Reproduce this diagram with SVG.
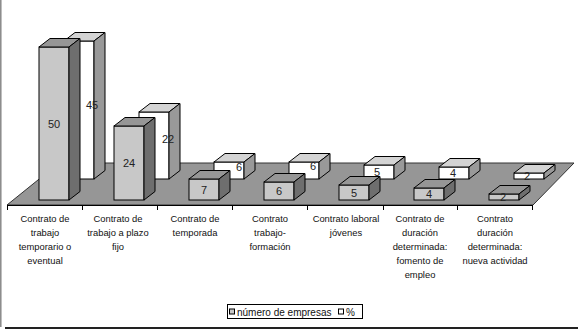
<svg xmlns="http://www.w3.org/2000/svg" width="578" height="331" viewBox="0 0 578 331">
<style>
.ff{fill:#c8c8c8;stroke:#000;stroke-width:1}
.ft{fill:#969696;stroke:#000;stroke-width:1;stroke-linejoin:round}
.fs{fill:#6e6e6e;stroke:#000;stroke-width:1;stroke-linejoin:round}
.bf{fill:#fff;stroke:#000;stroke-width:1}
.bt{fill:#d4d4d4;stroke:#000;stroke-width:1;stroke-linejoin:round}
.bs{fill:#999;stroke:#000;stroke-width:1;stroke-linejoin:round}
.v{font-family:"Liberation Sans",Arial,sans-serif;font-size:11px;fill:#222;text-anchor:middle}
.c{font-family:"Liberation Sans",Arial,sans-serif;font-size:9.4px;fill:#111;text-anchor:middle}
.lg{font-family:"Liberation Sans",Arial,sans-serif;font-size:10px;fill:#111}
</style>
<rect width="578" height="331" fill="#fff"/>
<line x1="0.8" y1="0" x2="0.8" y2="327" stroke="#888" stroke-width="1.5"/>
<line x1="5" y1="328" x2="578" y2="328" stroke="#222" stroke-width="2"/>
<g id="floor">
<polygon points="7,205 533,205 574,163 59,163" fill="#969696" stroke="#333" stroke-width="1"/>
<line x1="7" y1="205.5" x2="533" y2="205.5" stroke="#000" stroke-width="1.2"/>
<g stroke="#000" stroke-width="1">
<line x1="7.5" y1="205" x2="7.5" y2="210"/><line x1="82.5" y1="205" x2="82.5" y2="210"/><line x1="157.5" y1="205" x2="157.5" y2="210"/><line x1="232.5" y1="205" x2="232.5" y2="210"/><line x1="307.5" y1="205" x2="307.5" y2="210"/><line x1="383.5" y1="205" x2="383.5" y2="210"/><line x1="457.5" y1="205" x2="457.5" y2="210"/><line x1="532.5" y1="205" x2="532.5" y2="210"/>
</g>
</g>
<g id="pct-bars">
<g id="pct0"><rect class="bf" x="64" y="41" width="30" height="138"/><polygon class="bt" points="64,41 75,32.5 105,32.5 94,41"/><polygon class="bs" points="94,41 105,32.5 105,170.5 94,179"/><text class="v" x="92" y="109">45</text></g>
<g id="pct1"><rect class="bf" x="139" y="112" width="30" height="67"/><polygon class="bt" points="139,112 150,103.5 180,103.5 169,112"/><polygon class="bs" points="169,112 180,103.5 180,170.5 169,179"/><text class="v" x="168" y="143">22</text></g>
<g id="pct2"><rect class="bf" x="214" y="162" width="30" height="17"/><polygon class="bt" points="214,162 225,153.5 255,153.5 244,162"/><polygon class="bs" points="244,162 255,153.5 255,170.5 244,179"/><text class="v" x="239" y="171">6</text></g>
<g id="pct3"><rect class="bf" x="289" y="162" width="30" height="17"/><polygon class="bt" points="289,162 300,153.5 330,153.5 319,162"/><polygon class="bs" points="319,162 330,153.5 330,170.5 319,179"/><text class="v" x="313" y="170">6</text></g>
<g id="pct4"><rect class="bf" x="364" y="165" width="30" height="14"/><polygon class="bt" points="364,165 375,156.5 405,156.5 394,165"/><polygon class="bs" points="394,165 405,156.5 405,170.5 394,179"/><text class="v" x="377" y="176">5</text></g>
<g id="pct5"><rect class="bf" x="439" y="167" width="30" height="12"/><polygon class="bt" points="439,167 450,158.5 480,158.5 469,167"/><polygon class="bs" points="469,167 480,158.5 480,170.5 469,179"/><text class="v" x="453" y="177">4</text></g>
<g id="pct6"><rect class="bf" x="514" y="173" width="30" height="6"/><polygon class="bt" points="514,173 525,164.5 555,164.5 544,173"/><polygon class="bs" points="544,173 555,164.5 555,170.5 544,179"/><text class="v" x="527" y="180">2</text></g>
</g>
<g id="num-bars">
<g id="num0"><rect class="ff" x="39" y="47" width="30" height="153"/><polygon class="ft" points="39,47 50,38.5 80,38.5 69,47"/><polygon class="fs" points="69,47 80,38.5 80,191.5 69,200"/><text class="v" x="54" y="128">50</text></g>
<g id="num1"><rect class="ff" x="114" y="126" width="30" height="74"/><polygon class="ft" points="114,126 125,117.5 155,117.5 144,126"/><polygon class="fs" points="144,126 155,117.5 155,191.5 144,200"/><text class="v" x="129" y="167">24</text></g>
<g id="num2"><rect class="ff" x="189" y="179" width="30" height="21"/><polygon class="ft" points="189,179 200,170.5 230,170.5 219,179"/><polygon class="fs" points="219,179 230,170.5 230,191.5 219,200"/><text class="v" x="204" y="193.5">7</text></g>
<g id="num3"><rect class="ff" x="264" y="182" width="30" height="18"/><polygon class="ft" points="264,182 275,173.5 305,173.5 294,182"/><polygon class="fs" points="294,182 305,173.5 305,191.5 294,200"/><text class="v" x="279" y="195">6</text></g>
<g id="num4"><rect class="ff" x="339" y="185" width="30" height="15"/><polygon class="ft" points="339,185 350,176.5 380,176.5 369,185"/><polygon class="fs" points="369,185 380,176.5 380,191.5 369,200"/><text class="v" x="354" y="197">5</text></g>
<g id="num5"><rect class="ff" x="414" y="188" width="30" height="12"/><polygon class="ft" points="414,188 425,179.5 455,179.5 444,188"/><polygon class="fs" points="444,188 455,179.5 455,191.5 444,200"/><text class="v" x="429" y="198">4</text></g>
<g id="num6"><rect class="ff" x="489" y="194" width="30" height="6"/><polygon class="ft" points="489,194 500,185.5 530,185.5 519,194"/><polygon class="fs" points="519,194 530,185.5 530,191.5 519,200"/><text class="v" x="503" y="201">2</text></g>
</g>
<g id="connectors"></g>
<g id="categories">
<text class="c" x="45" y="222"><tspan x="45">Contrato de</tspan><tspan x="45" dy="14">trabajo</tspan><tspan x="45" dy="14">temporario o</tspan><tspan x="45" dy="14">eventual</tspan></text>
<text class="c" x="118" y="222"><tspan x="118">Contrato de</tspan><tspan x="118" dy="14">trabajo a plazo</tspan><tspan x="118" dy="14">fijo</tspan></text>
<text class="c" x="195" y="222"><tspan x="195">Contrato de</tspan><tspan x="195" dy="14">temporada</tspan></text>
<text class="c" x="270" y="222"><tspan x="270">Contrato</tspan><tspan x="270" dy="14">trabajo-</tspan><tspan x="270" dy="14">formación</tspan></text>
<text class="c" x="346" y="222"><tspan x="346">Contrato laboral</tspan><tspan x="346" dy="14">jóvenes</tspan></text>
<text class="c" x="420" y="222"><tspan x="420">Contrato de</tspan><tspan x="420" dy="14">duración</tspan><tspan x="420" dy="14">determinada:</tspan><tspan x="420" dy="14">fomento de</tspan><tspan x="420" dy="14">empleo</tspan></text>
<text class="c" x="495" y="222"><tspan x="495">Contrato</tspan><tspan x="495" dy="14">duración</tspan><tspan x="495" dy="14">determinada:</tspan><tspan x="495" dy="14">nueva actividad</tspan></text>
</g>
<g id="legend">
<rect x="227.5" y="304.5" width="135" height="14" fill="#fff" stroke="#000" stroke-width="1"/>
<rect x="229.5" y="309" width="5" height="5" fill="#c8c8c8" stroke="#000" stroke-width="1"/>
<text class="lg" x="237" y="315.5">número de empresas</text>
<rect x="338.5" y="309" width="5" height="5" fill="#fff" stroke="#000" stroke-width="1"/>
<text class="lg" x="346" y="315.5">%</text>
</g>
</svg>
